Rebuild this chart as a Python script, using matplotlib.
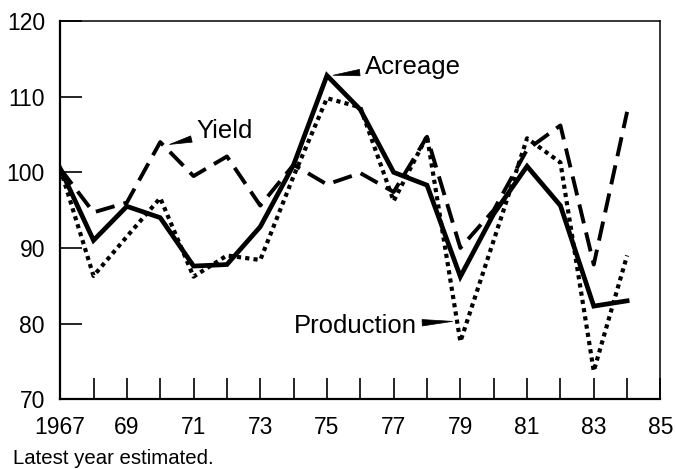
import matplotlib.pyplot as plt
import matplotlib.ticker as mticker

plt.rcParams['font.family'] = ['Liberation Sans', 'DejaVu Sans']

# index values, 1967-1984 (latest year estimated)
years = list(range(1967, 1985))
acreage = [100.5, 91.0, 95.5, 94.0, 87.6, 87.8, 92.8, 101.0, 112.8, 108.3,
           100.0, 98.3, 86.2, 94.5, 100.8, 95.6, 82.3, 83.0]
yield_idx = [100.5, 94.7, 96.0, 104.0, 99.5, 102.1, 95.6, 101.0, 98.4, 99.9,
             97.4, 104.7, 90.0, 95.0, 103.0, 106.2, 87.8, 108.0]
production = [100.5, 86.3, 91.5, 96.6, 86.2, 89.0, 88.4, 99.5, 109.8, 108.6,
              96.2, 104.8, 77.6, 91.0, 104.5, 101.3, 73.7, 89.0]

major_years = list(range(1967, 1986, 2))
major_labels = ['1967', '69', '71', '73', '75', '77', '79', '81', '83', '85']
y_ticks = [70, 80, 90, 100, 110, 120]

fig = plt.figure(figsize=(6.76, 4.69), dpi=100)
ax = fig.add_axes([0.089, 0.149, 0.888, 0.806])

ax.plot(years, acreage, color='black', lw=3.4, solid_joinstyle='miter')
ax.plot(years, yield_idx, color='black', lw=2.8, dashes=(5.0, 2.4),
        dash_capstyle='butt')
ax.plot(years, production, color='black', lw=3.0, dashes=(1.0, 1.0),
        dash_capstyle='butt')

ax.set_xlim(1967, 1985)
ax.set_ylim(70, 120)
ax.set_xticks(major_years)
ax.set_xticklabels(major_labels)
ax.xaxis.set_minor_locator(mticker.MultipleLocator(1))
ax.set_yticks(y_ticks)

ax.tick_params(axis='both', which='both', direction='in', width=1.2,
               labelsize=16.5, colors='black')
ax.tick_params(axis='x', which='both', length=15, pad=12)
ax.tick_params(axis='y', length=16, pad=11)
ax.spines['left'].set_linewidth(1.6)
ax.spines['bottom'].set_linewidth(1.6)
ax.spines['top'].set_linewidth(1.1)
ax.spines['right'].set_linewidth(1.1)

# labels with wedge pointers
wedge = dict(arrowstyle='wedge,tail_width=0.25,shrink_factor=0.5',
             color='black', lw=0.5)
ax.annotate('Yield', xy=(1970.2, 103.6), xytext=(1971.1, 105.5),
            fontsize=18.5, va='center', ha='left', arrowprops=wedge)
ax.annotate('Acreage', xy=(1975.1, 112.8), xytext=(1976.15, 113.9),
            fontsize=18.5, va='center', ha='left', arrowprops=wedge)
ax.annotate('Production', xy=(1978.85, 80.3), xytext=(1974.0, 79.7),
            fontsize=18.5, va='center', ha='left', arrowprops=wedge)

fig.text(0.019, 0.011, 'Latest year estimated.', fontsize=14.7, ha='left',
         va='baseline')

fig.savefig('out.png', dpi=100)
